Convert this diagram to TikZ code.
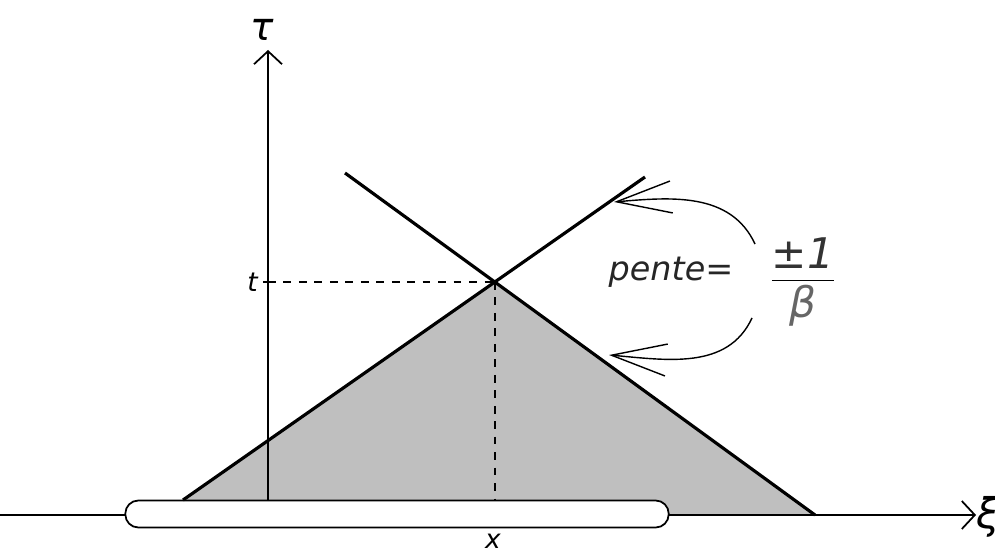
\documentclass[tikz,border=0pt]{standalone}
\usepackage{fontspec}
\setmainfont{DejaVu Sans}
\usepackage{amsmath}
\usetikzlibrary{arrows.meta}

\begin{document}
\begin{tikzpicture}[
  x=0.01cm, y=-0.01cm,
  every node/.style={font=\itshape\fontsize{9.5}{11}\selectfont, inner sep=1pt},
  axis/.style  = {line width=0.5pt, -{Straight Barb[length=1.3mm, width=2.8mm]}},
  ray/.style   = {line width=0.9pt},
  guide/.style = {line width=0.45pt, dash pattern=on 2.2pt off 2.2pt},
  curve/.style = {line width=0.4pt, -{Straight Barb[length=5.5mm, width=3.2mm]}},
  support/.style = {draw, line width=0.5pt, fill=white, rounded corners=0.13cm,
                    minimum width=5.43cm, minimum height=0.27cm, inner sep=0pt},
  small/.style = {font=\itshape\fontsize{7.5}{9}\selectfont},
]
  \useasboundingbox (0,0) rectangle (995,555);

  % cone of dependence
  \coordinate (A) at (183,500);
  \coordinate (B) at (815,515);
  \coordinate (P) at (495,282);
  \coordinate (Lend) at (645,177);
  \coordinate (Rend) at (345,173);
  \fill[black!25] (A) -- (P) -- (B) -- (183,515) -- cycle;

  % axes
  \coordinate (xi0) at (0,515);
  \coordinate (xi1) at (976,515);
  \coordinate (tau0) at (268,500);
  \coordinate (tau1) at (268,50);
  \draw[axis] (xi0) -- (xi1);
  \draw[axis] (tau0) -- (tau1);
  \node[font=\itshape\fontsize{12}{14}\selectfont, anchor=west] (xi) at (972,517) {ξ};
  \node[font=\itshape\fontsize{11}{13}\selectfont] (tau) at (262,30) {τ};

  % initial segment
  \node[support] (seg) at (397,514) {};
  \node[small] (xlab) at (493,541) {x};

  % characteristics
  \draw[ray] (A) -- (Lend);
  \draw[ray] (B) -- (Rend);

  % guides to the apex
  \coordinate (Tt) at (268,282);
  \coordinate (Px) at (495,500);
  \draw[guide] (Tt) -- (P);
  \draw[guide] (P) -- (Px);
  \draw[line width=0.5pt] (Tt) -- ++(-5,0);
  \node[small, anchor=east] (tlab) at (262,282) {t};

  % slope label
  \node[text=black!85] (pente) at (671,272) {pente=};
  \node[inner sep=0pt] (frac) at (803,282)
       {$\dfrac{\text{\itshape\fontsize{12}{14}\selectfont\color{black!80}±1}}%
               {\text{\itshape\fontsize{12}{14}\selectfont\color{black!60}β}}$};
  \coordinate (c1) at (755,244);
  \coordinate (h1) at (614,202);
  \coordinate (c2) at (752,318);
  \coordinate (h2) at (609,355);
  \draw[curve] (c1) to[out=115, in=5] (h1);
  \draw[curve] (c2) to[out=-115, in=-5] (h2);
\end{tikzpicture}
\end{document}
